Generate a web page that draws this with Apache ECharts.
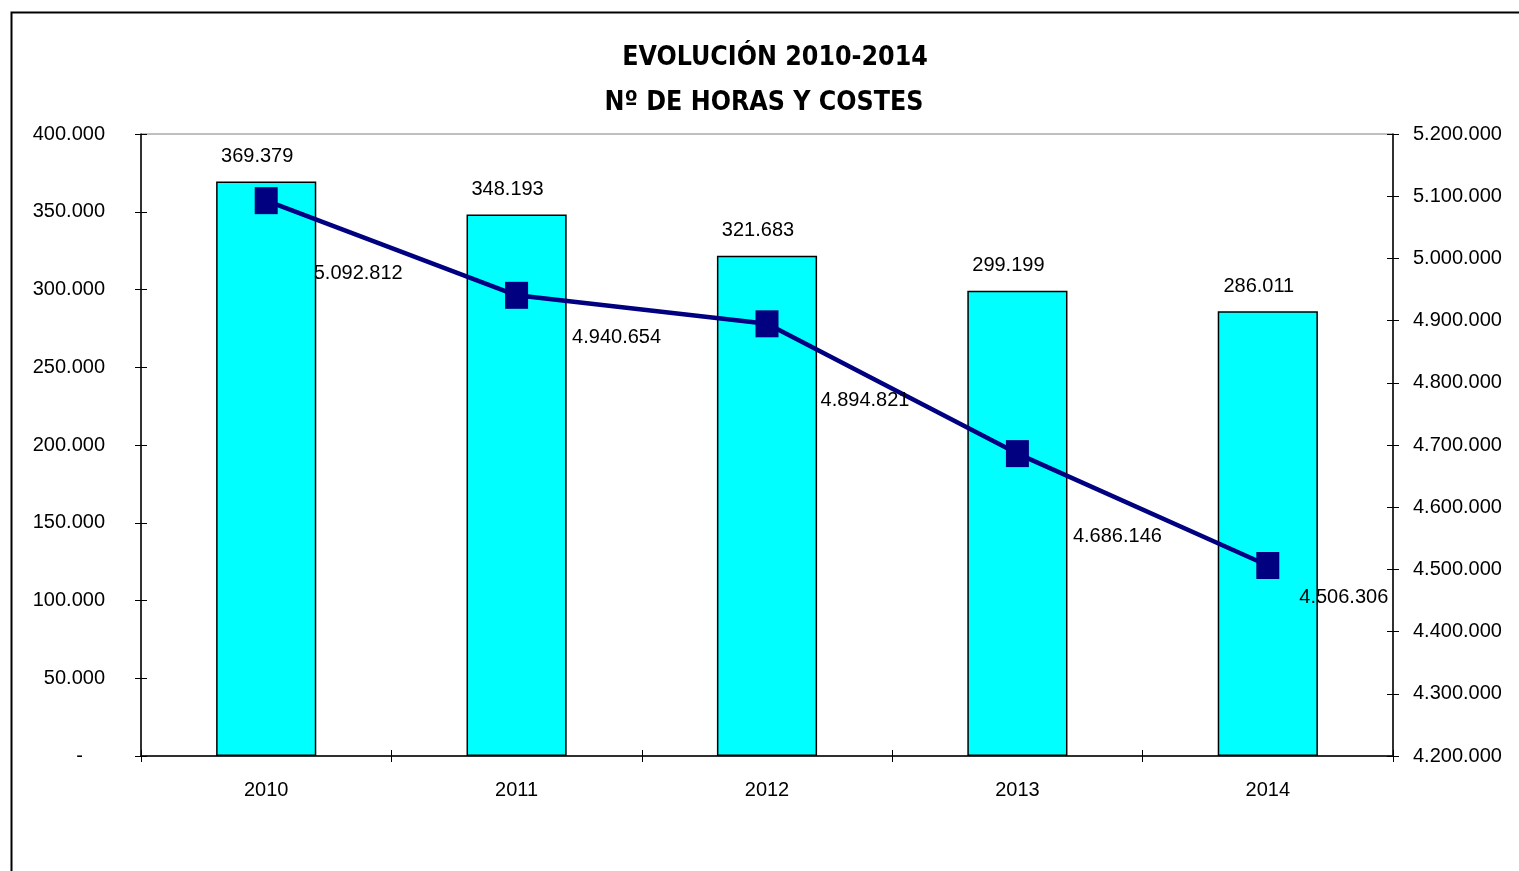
<!DOCTYPE html>
<html>
<head>
<meta charset="utf-8">
<script src="https://cdn.jsdelivr.net/npm/echarts@6/dist/echarts.min.js"></script>
<style>
html,body{margin:0;padding:0;background:#fff;}
#chart{width:1519px;height:871px;}
</style>
</head>
<body>
<div id="chart"></div>
<script>
const years = ['2010', '2011', '2012', '2013', '2014'];
const horas = [369379, 348193, 321683, 299199, 286011];
const costes = [5092812, 4940654, 4894821, 4686146, 4506306];
const titleLine1 = 'EVOLUCIÓN 2010-2014';
const titleLine2 = 'Nº DE HORAS Y COSTES';

// label placement (style only, not data)
const costeLabelOffsets = [[92, 73], [100, 42], [98, 77], [100, 83], [76, 32]];

const FONT = '"Liberation Sans", Arial, sans-serif';
const FS = 20;
const TFONT = '"DejaVu Sans Condensed", "DejaVu Sans", sans-serif';

function fmt(v) {
  return String(Math.round(v)).replace(/\B(?=(\d{3})+(?!\d))/g, '.');
}

const chart = echarts.init(document.getElementById('chart'));
const axisColor = '#000';
const labelStyle = { color: '#000', fontFamily: FONT, fontSize: FS };

chart.setOption({
  backgroundColor: '#fff',
  animation: false,
  title: [
    { text: titleLine1, left: 770, top: 40, textAlign: 'center',
      textStyle: { fontFamily: TFONT, fontWeight: 'bold', fontSize: 26.5, color: '#000' } },
    { text: titleLine2, left: 759, top: 85, textAlign: 'center',
      textStyle: { fontFamily: TFONT, fontWeight: 'bold', fontSize: 26.5, color: '#000' } }
  ],
  graphic: [{
    type: 'rect', left: 9, top: 10, silent: true,
    shape: { x: 0, y: 0, width: 1600, height: 1000 },
    style: { fill: 'none', stroke: '#000', lineWidth: 2 }
  }],
  grid: { left: 141, right: 126, top: 134, bottom: 115, show: true, borderColor: '#808080', borderWidth: 1, backgroundColor: 'transparent' },
  xAxis: [
    { type: 'category', data: years, position: 'bottom',
      axisLine: { lineStyle: { color: axisColor, width: 1.5 } },
      axisTick: { show: true, length: 6, lineStyle: { color: axisColor } },
      axisLabel: Object.assign({ margin: 24 }, labelStyle),
      splitLine: { show: false } },
    { type: 'category', data: years, position: 'bottom',
      axisLine: { show: false },
      axisTick: { show: true, inside: true, length: 6, lineStyle: { color: axisColor } },
      axisLabel: { show: false }, splitLine: { show: false } }
  ],
  yAxis: [
    { type: 'value', position: 'left', min: 0, max: 400000, interval: 50000,
      axisLine: { show: true, lineStyle: { color: axisColor, width: 1.5 } },
      axisTick: { show: true, length: 6, lineStyle: { color: axisColor } },
      splitLine: { show: false },
      axisLabel: Object.assign({ margin: 36,
        formatter: v => v === 0 ? '{d|-}' : fmt(v),
        rich: { d: { fontFamily: FONT, fontSize: FS, color: '#000', padding: [0, 22, 0, 0] } } }, labelStyle) },
    { type: 'value', position: 'right', min: 4200000, max: 5200000, interval: 100000,
      axisLine: { show: true, lineStyle: { color: axisColor, width: 1.5 } },
      axisTick: { show: true, length: 6, lineStyle: { color: axisColor } },
      splitLine: { show: false },
      axisLabel: Object.assign({ margin: 20, formatter: v => fmt(v) }, labelStyle) },
    { type: 'value', position: 'left', min: 0, max: 400000, interval: 50000,
      axisLine: { show: false },
      axisTick: { show: true, inside: true, length: 6, lineStyle: { color: axisColor } },
      splitLine: { show: false }, axisLabel: { show: false } },
    { type: 'value', position: 'right', min: 4200000, max: 5200000, interval: 100000,
      axisLine: { show: false },
      axisTick: { show: true, inside: true, length: 6, lineStyle: { color: axisColor } },
      splitLine: { show: false }, axisLabel: { show: false } }
  ],
  series: [
    { type: 'bar', name: 'Horas', xAxisIndex: 0, yAxisIndex: 0, data: horas,
      barWidth: '40%',
      itemStyle: { color: '#00FFFF', borderColor: '#000', borderWidth: 1.5 },
      label: { show: true, position: 'top', distance: 15, offset: [-9, 0],
        formatter: p => fmt(p.value), color: '#000', fontFamily: FONT, fontSize: FS },
      z: 2 },
    { type: 'line', name: 'Costes', xAxisIndex: 0, yAxisIndex: 1,
      data: costes.map((v, i) => ({ value: v, label: { offset: costeLabelOffsets[i] } })),
      symbol: 'rect', symbolSize: [23, 27],
      lineStyle: { color: '#000080', width: 4.5 },
      itemStyle: { color: '#000080' },
      label: { show: true, position: 'inside', formatter: p => fmt(p.value),
        color: '#000', fontFamily: FONT, fontSize: FS },
      z: 3 }
  ]
});
</script>
</body>
</html>
